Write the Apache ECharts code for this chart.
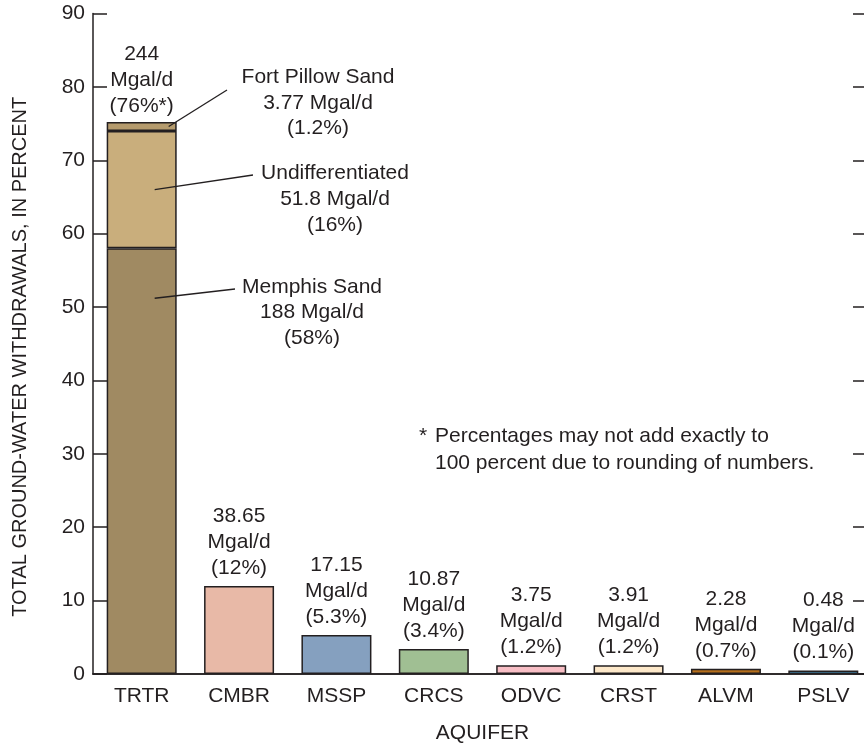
<!DOCTYPE html>
<html>
<head>
<meta charset="utf-8">
<script src="https://cdn.jsdelivr.net/npm/echarts@6/dist/echarts.min.js"></script>
<style>
  html, body { margin: 0; padding: 0; background: #fff; }
  #chart { width: 864px; height: 744px; }
</style>
</head>
<body>
<div id="chart"></div>
<script>
// Aquifer codes along the x axis
const aquifers = ['TRTR', 'CMBR', 'MSSP', 'CRCS', 'ODVC', 'CRST', 'ALVM', 'PSLV'];

// TRTR is split into its three component units (percent of total withdrawals)
const memphisSand = [58, '-', '-', '-', '-', '-', '-', '-'];
const undifferentiated = [16, '-', '-', '-', '-', '-', '-', '-'];
const fortPillowSand = [1.2, '-', '-', '-', '-', '-', '-', '-'];

// Remaining aquifers, percent of total withdrawals
const otherPercent = ['-', 12, 5.3, 3.4, 1.2, 1.2, 0.7, 0.1];
const otherMgal = ['', '38.65', '17.15', '10.87', '3.75', '3.91', '2.28', '0.48'];
const otherPctText = ['', '12%', '5.3%', '3.4%', '1.2%', '1.2%', '0.7%', '0.1%'];

// TRTR total label
const trtrTotalMgal = '244';
const trtrTotalPct = '76%*';

// Unit annotations inside TRTR
const unitNames = ['Fort Pillow Sand', 'Undifferentiated', 'Memphis Sand'];
const unitMgal = ['3.77', '51.8', '188'];
const unitPct = ['1.2%', '16%', '58%'];

const yTicks = [0, 10, 20, 30, 40, 50, 60, 70, 80, 90];

const otherColors = ['#ffffff', '#E8B9A7', '#85A0BF', '#A0BF93', '#F8BEC5', '#FDE8C9', '#B56F1C', '#4CA7D8'];

const FONT = "'Liberation Sans', Arial, Helvetica, sans-serif";
const FS = 21;
const INK = '#231F20';
const border = { borderColor: INK, borderWidth: 1.5 };

const chart = echarts.init(document.getElementById('chart'), null, { renderer: 'canvas' });

const option = {
  backgroundColor: '#ffffff',
  animation: false,
  textStyle: { fontFamily: FONT, color: INK },
  grid: { left: 93, top: 13.5, width: 779, height: 660.5, outerBoundsMode: 'none', containLabel: false },
  xAxis: [
    {
      type: 'category',
      data: aquifers,
      position: 'bottom',
      axisLine: { lineStyle: { color: INK, width: 1.5 } },
      axisTick: { inside: true, length: 14, lineStyle: { color: INK, width: 1.5 } },
      axisLabel: { fontSize: FS, color: INK, margin: 12, fontFamily: FONT },
      name: 'AQUIFER',
      nameLocation: 'middle',
      nameGap: 49,
      nameTextStyle: { fontSize: FS, color: INK, fontFamily: FONT }
    },
    {
      type: 'category',
      data: aquifers,
      position: 'top',
      axisLine: { lineStyle: { color: INK, width: 1.5 } },
      axisTick: { inside: true, length: 15, lineStyle: { color: INK, width: 1.5 } },
      axisLabel: { show: false }
    }
  ],
  yAxis: [
    {
      type: 'value',
      min: 0, max: 90, interval: 10,
      position: 'left',
      splitLine: { show: false },
      axisLine: { show: true, lineStyle: { color: INK, width: 1.5 } },
      axisTick: { show: true, inside: true, length: 14, lineStyle: { color: INK, width: 1.5 } },
      axisLabel: { fontSize: FS, color: INK, margin: 8, fontFamily: FONT,
        formatter: v => (yTicks.indexOf(v) >= 0 ? String(v) : '') },
      name: 'TOTAL GROUND-WATER WITHDRAWALS, IN PERCENT',
      nameLocation: 'middle',
      nameGap: 63,
      nameTextStyle: { fontSize: 20, color: INK, fontFamily: FONT, padding: [0, 26, 0, 0] }
    },
    {
      type: 'value',
      min: 0, max: 90, interval: 10,
      position: 'right',
      splitLine: { show: false },
      axisLine: { show: true, lineStyle: { color: INK, width: 1.5 } },
      axisTick: { show: true, inside: true, length: 19, lineStyle: { color: INK, width: 1.5 } },
      axisLabel: { show: false }
    }
  ],
  series: [
    {
      name: 'Memphis Sand', type: 'bar', stack: 'aq', barWidth: 70,
      data: memphisSand,
      itemStyle: Object.assign({ color: '#A08A62' }, border)
    },
    {
      name: 'Undifferentiated', type: 'bar', stack: 'aq', barWidth: 70,
      data: undifferentiated,
      itemStyle: Object.assign({ color: '#C9AE7C' }, border)
    },
    {
      name: 'Fort Pillow Sand', type: 'bar', stack: 'aq', barWidth: 70,
      data: fortPillowSand,
      itemStyle: Object.assign({ color: '#B59B6D' }, border),
      label: {
        show: true, position: 'top', distance: 3,
        fontSize: FS, lineHeight: 26, color: INK, fontFamily: FONT, align: 'center',
        formatter: () => trtrTotalMgal + '\nMgal/d\n(' + trtrTotalPct + ')'
      }
    },
    {
      name: 'Other aquifers', type: 'bar', stack: 'aq', barWidth: 70,
      barMinHeight: 3.5,
      data: otherPercent.map((v, i) => (v === '-' ? '-' : { value: v, itemStyle: { color: otherColors[i] } })),
      itemStyle: border,
      label: {
        show: true, position: 'top', distance: 5,
        fontSize: FS, lineHeight: 26, color: INK, fontFamily: FONT, align: 'center',
        formatter: p => otherMgal[p.dataIndex] + '\nMgal/d\n(' + otherPctText[p.dataIndex] + ')'
      }
    }
  ]
};

chart.setOption(option);

// Leader-line annotations for the TRTR component units
function px(cat, val) {
  return chart.convertToPixel({ xAxisIndex: 0, yAxisIndex: 0 }, [cat, val]);
}
const fpMid = memphisSand[0] + undifferentiated[0] + fortPillowSand[0] / 2;
const unMid = memphisSand[0] + undifferentiated[0] / 2;
const msAnchor = memphisSand[0] - 6.8;

const pFort = px('TRTR', fpMid);
const pUnd = px('TRTR', unMid);
const pMem = px('TRTR', msAnchor);

const annoFont = FS + 'px ' + FONT;
const lineStyle = { stroke: INK, lineWidth: 1.3 };

const graphics = [
  { type: 'line', shape: { x1: pFort[0] + 27, y1: pFort[1], x2: 227, y2: 90 }, style: lineStyle, z: 10 },
  { type: 'line', shape: { x1: pUnd[0] + 13, y1: pUnd[1], x2: 253, y2: 175 }, style: lineStyle, z: 10 },
  { type: 'line', shape: { x1: pMem[0] + 13, y1: pMem[1], x2: 235, y2: 289 }, style: lineStyle, z: 10 },
  {
    type: 'text', x: 318, y: 103, z: 10,
    style: { text: unitNames[0] + '\n' + unitMgal[0] + ' Mgal/d\n(' + unitPct[0] + ')',
      font: annoFont, fill: INK, align: 'center', verticalAlign: 'middle', lineHeight: 25.5 }
  },
  {
    type: 'text', x: 335, y: 199, z: 10,
    style: { text: unitNames[1] + '\n' + unitMgal[1] + ' Mgal/d\n(' + unitPct[1] + ')',
      font: annoFont, fill: INK, align: 'center', verticalAlign: 'middle', lineHeight: 26 }
  },
  {
    type: 'text', x: 312, y: 312.5, z: 10,
    style: { text: unitNames[2] + '\n' + unitMgal[2] + ' Mgal/d\n(' + unitPct[2] + ')',
      font: annoFont, fill: INK, align: 'center', verticalAlign: 'middle', lineHeight: 25.5 }
  },
  {
    type: 'text', x: 419, y: 436, z: 10,
    style: { text: '*', font: annoFont, fill: INK, align: 'left', verticalAlign: 'middle' }
  },
  {
    type: 'text', x: 435, y: 436, z: 10,
    style: { text: 'Percentages may not add exactly to', font: annoFont, fill: INK, align: 'left', verticalAlign: 'middle' }
  },
  {
    type: 'text', x: 435, y: 463.5, z: 10,
    style: { text: '100 percent due to rounding of numbers.', font: annoFont, fill: INK, align: 'left', verticalAlign: 'middle' }
  }
];

chart.setOption({ graphic: graphics });
</script>
</body>
</html>
